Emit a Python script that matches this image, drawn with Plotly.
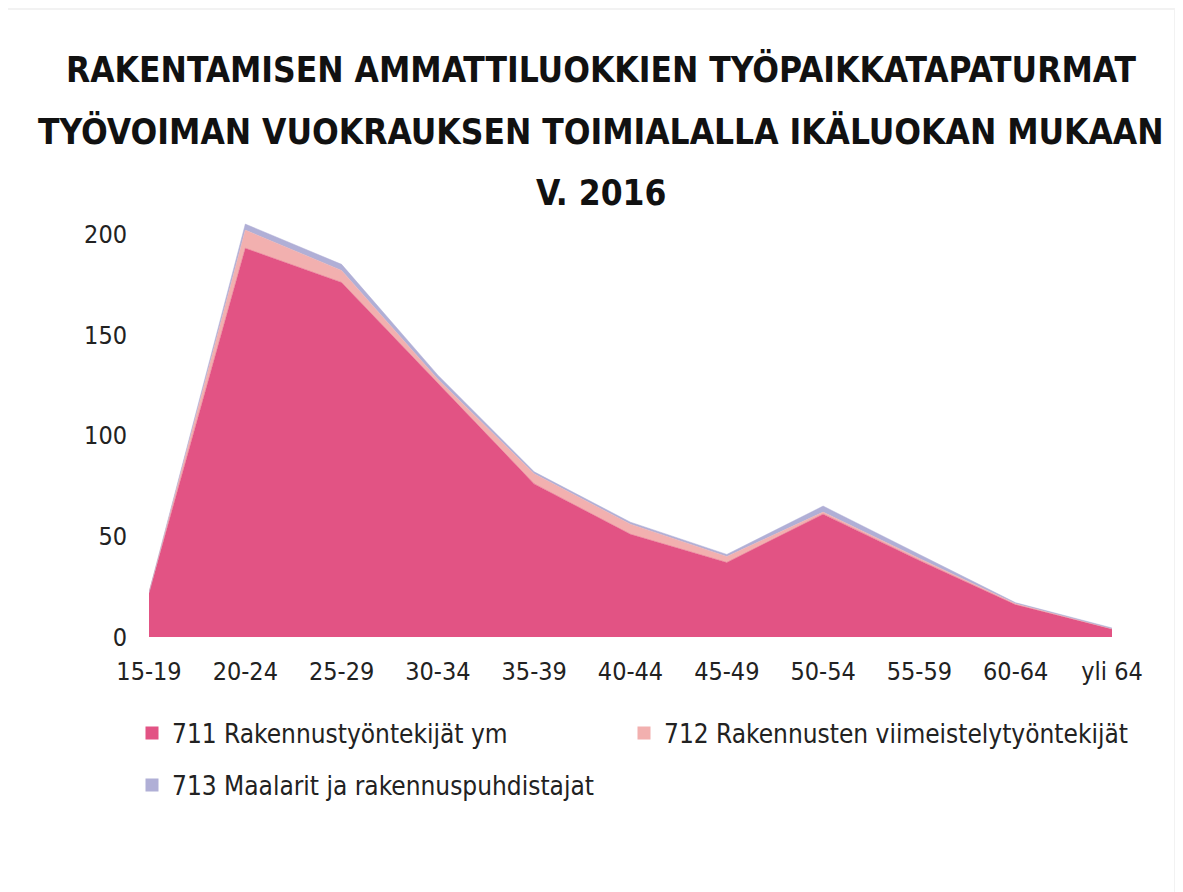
import plotly.graph_objects as go

age_groups = ["15-19", "20-24", "25-29", "30-34", "35-39", "40-44",
              "45-49", "50-54", "55-59", "60-64", "yli 64"]
s711 = [22, 193, 176, 126, 76, 51, 37, 61, 38, 16, 4]
s712 = [0, 9, 6, 2, 5, 5, 3, 1, 1, 0.5, 0]
s713 = [0, 3, 3, 2, 1, 1, 1, 3, 2, 0.5, 0.5]
names = ["711 Rakennustyöntekijät ym",
         "712 Rakennusten viimeistelytyöntekijät",
         "713 Maalarit ja rakennuspuhdistajat"]
colors = ["#E25384", "#F2B0AF", "#B0AFD6"]
y_ticks = [0, 50, 100, 150, 200]
title_lines = ["RAKENTAMISEN AMMATTILUOKKIEN TYÖPAIKKATAPATURMAT",
               "TYÖVOIMAN VUOKRAUKSEN TOIMIALALLA IKÄLUOKAN MUKAAN",
               "V. 2016"]

OFF = 8  # default page margin of the html body
W, H = 1183 - OFF, 892 - OFF
L, R, T, B = 149 - OFF, 1112 - OFF, 214 - OFF, 637 - OFF  # plot area (figure px)

TICK_FONT = "DejaVu Sans Condensed, Liberation Sans Narrow, sans-serif"
TITLE_FONT = "DejaVu Sans Condensed, Liberation Sans Narrow, sans-serif"

fig = go.Figure()
xs = list(range(len(age_groups)))
for vals, nm, col in zip([s711, s712, s713], names, colors):
    fig.add_trace(go.Scatter(
        x=xs, y=vals, name=nm, stackgroup="one", mode="lines",
        line=dict(width=0.5, color=col), fillcolor=col,
        showlegend=False, hoverinfo="x+y+name"))

legend_names = ["legend", "legend2", "legend3"]
for nm, col, lg in zip(names, colors, legend_names):
    fig.add_trace(go.Scatter(
        x=[None], y=[None], mode="markers", name=nm, legend=lg,
        marker=dict(symbol="square", size=13, color=col), showlegend=True))


def px_x(p):  # reference pixel -> paper x
    return (p - OFF - L) / (R - L)


def px_y(p):  # reference pixel -> paper y
    return (B - (p - OFF)) / (B - T)


leg_font = dict(family=TICK_FONT, size=26, color="#222222")
legend_pos = [(132, 733), (624, 733), (132, 785)]
leg_layouts = {}
for lg, (lx, ly) in zip(legend_names, legend_pos):
    leg_layouts[lg] = dict(x=px_x(lx), y=px_y(ly), xanchor="left", yanchor="middle",
                           orientation="h", font=leg_font, bgcolor="rgba(0,0,0,0)",
                           borderwidth=0, itemclick=False)

title_y = [70, 131, 193]
annotations = [dict(text=t, x=px_x(601), y=px_y(yy), xref="paper", yref="paper",
                    xanchor="center", yanchor="middle", showarrow=False,
                    font=dict(family=TITLE_FONT, size=35, color="#111111", weight="bold"))
               for t, yy in zip(title_lines, title_y)]

fig.update_layout(
    width=W, height=H,
    margin=dict(l=L, r=W - R, t=T, b=H - B, pad=0),
    paper_bgcolor="#F2F2F2",
    plot_bgcolor="white",
    xaxis=dict(range=[0, len(age_groups) - 1], tickvals=xs, ticktext=age_groups,
               showgrid=False, zeroline=False, showline=False, ticks="",
               ticklabelstandoff=17,
               tickfont=dict(family=TICK_FONT, size=25, color="#222222"), fixedrange=True),
    yaxis=dict(range=[0, 210], tickvals=y_ticks, showgrid=False, zeroline=False,
               showline=False, ticks="", ticklabelstandoff=21,
               tickfont=dict(family=TICK_FONT, size=25, color="#222222"), fixedrange=True),
    shapes=[dict(type="rect", xref="paper", yref="paper", layer="below",
                 x0=px_x(4), x1=px_x(1174), y0=px_y(900), y1=px_y(10),
                 fillcolor="white", line=dict(width=0))],
    annotations=annotations,
    **leg_layouts,
)

fig.write_html("out.html")
